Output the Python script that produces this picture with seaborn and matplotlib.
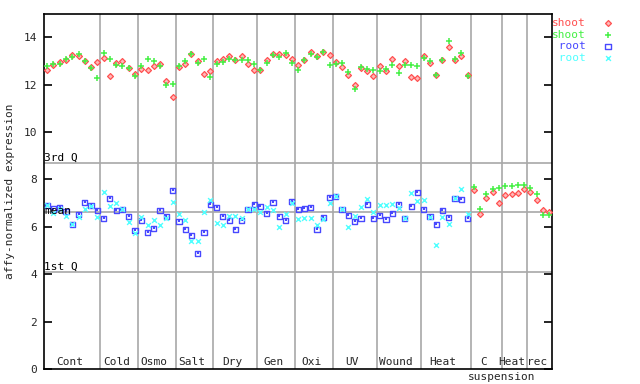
import numpy as np
import pandas as pd
import matplotlib
matplotlib.use('Agg')
import matplotlib.pyplot as plt
import seaborn as sns

# experiment groups along the x axis (samples in order)
group_names = ['Cont', 'Cold', 'Osmo', 'Salt', 'Dry', 'Gen', 'Oxi', 'UV', 'Wound', 'Heat', 'C', 'Heat', 'rec']
group_sizes = [9, 6, 6, 6, 7, 6, 6, 7, 7, 8, 5, 4, 4]
group_sublabels = {'C': 'suspension'}

# shoot samples (81)
shoot_red = [12.60, 12.81, 12.94, 13.03, 13.24, 13.19, 12.98, 12.73, 12.94,
             13.11, 12.35, 12.90, 12.98, 12.69, 12.43,
             12.65, 12.60, 12.77, 12.86, 12.14, 11.46,
             12.73, 12.86, 13.28, 12.98, 12.43, 12.56,
             12.98, 13.07, 13.19, 13.03, 13.19, 12.86, 12.60,
             12.60, 13.03, 13.28, 13.28, 13.24, 13.07,
             12.81, 13.03, 13.36, 13.19, 13.36, 13.24,
             12.94, 12.73, 12.39, 11.97, 12.69, 12.56, 12.35,
             12.77, 12.56, 13.07, 12.77, 12.98, 12.31, 12.27,
             13.19, 12.90, 12.39, 13.03, 13.57, 13.03, 13.19, 12.39,
             7.54, 6.53, 7.20, 7.46, 6.99,
             7.33, 7.37, 7.41, 7.58,
             7.46, 7.12, 6.70, 6.61]
shoot_green = [12.78, 12.85, 12.86, 13.07, 13.15, 13.28, 12.98, 12.69, 12.27,
               13.32, 13.07, 12.81, 12.77, 12.69, 12.35,
               12.77, 13.07, 12.98, 12.77, 11.97, 12.01,
               12.77, 12.98, 13.28, 12.90, 13.07, 12.31,
               12.86, 12.94, 13.07, 13.03, 13.03, 13.03, 12.86,
               12.60, 12.90, 13.24, 13.15, 13.32, 12.90,
               12.60, 13.03, 13.28, 13.15, 13.36, 12.81,
               12.86, 12.90, 12.52, 11.80, 12.73, 12.65, 12.60,
               12.56, 12.65, 12.81, 12.48, 12.81, 12.81, 12.77,
               13.11, 12.98, 12.39, 13.03, 13.83, 13.07, 13.32, 12.35,
               7.67, 6.74, 7.37, 7.58, 7.62,
               7.71, 7.71, 7.75, 7.75,
               7.62, 7.37, 6.49, 6.49]

# root samples (68, no cell suspension / heat recovery)
root_blue = [6.91, 6.75, 6.82, 6.65, 6.11, 6.53, 7.03, 6.91, 6.70,
             6.36, 7.20, 6.70, 6.74, 6.44, 5.85,
             6.27, 5.77, 5.94, 6.70, 6.44, 7.54,
             6.23, 5.89, 5.64, 4.88, 5.77, 6.95,
             6.82, 6.44, 6.27, 5.89, 6.27, 6.74, 6.95,
             6.86, 6.57, 7.03, 6.44, 6.27, 7.08,
             6.74, 6.78, 6.82, 5.89, 6.40, 7.24,
             7.29, 6.74, 6.49, 6.23, 6.36, 6.95, 6.36,
             6.49, 6.32, 6.57, 6.95, 6.36, 6.86, 7.46,
             6.74, 6.44, 6.11, 6.70, 6.40, 7.20, 7.16, 6.36]
root_cyan = [6.91, 6.57, 6.75, 6.44, 6.11, 6.40, 6.74, 6.87, 6.40,
             7.46, 6.86, 6.99, 6.74, 6.19, 5.73,
             6.40, 6.06, 6.27, 6.06, 6.36, 7.03,
             6.53, 6.27, 5.39, 5.39, 6.61, 7.12,
             6.15, 6.06, 6.44, 6.44, 6.36, 6.74, 6.74,
             6.61, 6.82, 6.70, 5.98, 6.53, 6.99,
             6.32, 6.36, 6.36, 6.06, 6.32, 6.99,
             7.29, 6.74, 5.98, 6.44, 6.82, 7.16, 6.61,
             6.91, 6.91, 6.95, 6.78, 6.36, 7.41, 7.08,
             7.12, 6.40, 5.22, 6.40, 6.11, 7.20, 7.58, 6.53]

q_lines = {'3rd Q': 8.68, 'mean': 6.62, '1st Q': 4.08}

RED, GREEN, BLUE, CYAN = '#ff5050', '#44f044', '#4848ff', '#50ffff'
GRID = '#a8a8a8'
MONO = 'DejaVu Sans Mono'

sns.set_style('white')
plt.rcParams['font.family'] = [MONO]

shoot = pd.DataFrame({'sample': np.arange(len(shoot_red)), 'red': shoot_red, 'green': shoot_green})
root = pd.DataFrame({'sample': np.arange(len(root_blue)), 'blue': root_blue, 'cyan': root_cyan})

fig = plt.figure(figsize=(6.4, 3.84), dpi=100)
ax = fig.add_axes([44 / 640, 1 - 369 / 384, (552.3 - 44) / 640, (369 - 13.5) / 384])

# reference lines behind the points
edges = np.cumsum(group_sizes)[:-1] - 0.5
for e in edges:
    ax.axvline(e, color=GRID, lw=1.2, zorder=1)
for name, val in q_lines.items():
    ax.axhline(val, color=GRID, lw=1.2, zorder=1)
    dy = -0.15 if name == 'mean' else 0.03
    ax.text(-0.45, val + dy, name, fontsize=8, va='bottom', ha='left', color='black', zorder=4)

sns.scatterplot(data=shoot, x='sample', y='red', ax=ax, marker='D', s=9,
                facecolor='#ffb8b8', edgecolor=RED, linewidth=0.9, label='shoot', zorder=3)
sns.scatterplot(data=shoot, x='sample', y='green', ax=ax, marker='+', s=22,
                color=GREEN, linewidth=1.1, label='shoot', zorder=3)
sns.scatterplot(data=root, x='sample', y='blue', ax=ax, marker='s', s=14,
                facecolor='none', edgecolor=BLUE, linewidth=1.0, label=' root', zorder=3)
sns.scatterplot(data=root, x='sample', y='blue', ax=ax, marker='s', s=0.6,
                color=BLUE, linewidth=0, label='_nolegend_', zorder=3)
sns.scatterplot(data=root, x='sample', y='cyan', ax=ax, marker='x', s=12,
                color=CYAN, linewidth=1.0, label=' root', zorder=3)

# group labels along the bottom
start = 0
for name, size in zip(group_names, group_sizes):
    center = start + (size - 1) / 2
    ax.text(center - 0.45, 0.08, name, fontsize=8, ha='center', va='bottom')
    if name in group_sublabels:
        ax.text(start + size - 0.5, -0.12, group_sublabels[name], fontsize=8,
                ha='center', va='top', clip_on=False)
    start += size

ax.set_xlim(-0.5, len(shoot_red) - 0.5)
ax.set_ylim(0, 15)
ax.set_xticks([])
ax.set_yticks(np.arange(0, 15, 2))
ax.set_yticklabels([str(v) for v in range(0, 15, 2)], fontsize=8)
ax.tick_params(axis='y', which='both', direction='in', length=6, width=1.2,
               left=True, right=True, pad=5, color='black')
ax.set_xlabel('')
ax.set_ylabel('affy-normalized expression', fontsize=8, labelpad=6)
for sp in ax.spines.values():
    sp.set_color('black')
    sp.set_linewidth(1.2)
    sp.set_visible(True)

leg = ax.legend(loc='upper left', bbox_to_anchor=(552 / 640, 1 - 18 / 384),
                bbox_transform=fig.transFigure, frameon=False, markerfirst=False,
                prop={'family': MONO, 'size': 8}, borderpad=0, borderaxespad=0,
                labelspacing=0.15, handletextpad=1.0, handlelength=2.0,
                labelcolor=[RED, GREEN, BLUE, CYAN])

fig.savefig('out.png', dpi=100)
